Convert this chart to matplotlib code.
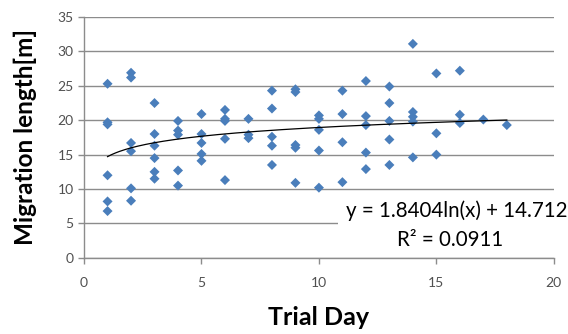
import numpy as np
import matplotlib
matplotlib.use("Agg")
import matplotlib.pyplot as plt

# Data (Trial Day, Migration length [m])
day_1 = [25.3, 19.7, 19.4, 12.0, 8.2, 6.8]
day_2 = [26.9, 26.2, 16.7, 15.5, 10.1, 8.3]
day_3 = [22.5, 18.0, 16.3, 14.5, 12.5, 11.5]
day_4 = [19.9, 18.5, 17.9, 12.7, 10.5]
day_5 = [20.9, 18.0, 16.7, 15.1, 14.1]
day_6 = [21.5, 20.2, 19.9, 17.3, 11.3]
day_7 = [20.2, 17.9, 17.4]
day_8 = [24.3, 21.7, 17.6, 16.3, 13.5]
day_9 = [24.5, 24.1, 16.4, 16.0, 10.9]
day_10 = [20.7, 20.2, 18.6, 15.6, 10.2]
day_11 = [24.3, 20.9, 16.8, 11.0]
day_12 = [25.7, 20.6, 19.3, 15.3, 12.9]
day_13 = [24.9, 22.5, 19.9, 17.2, 13.5]
day_14 = [31.1, 21.2, 20.5, 19.8, 14.6]
day_15 = [26.8, 18.1, 15.0]
day_16 = [27.2, 20.8, 19.6]
day_17 = [20.1]
day_18 = [19.3]

days = list(range(1, 19))
values_by_day = [day_1, day_2, day_3, day_4, day_5, day_6, day_7, day_8, day_9,
                 day_10, day_11, day_12, day_13, day_14, day_15, day_16, day_17, day_18]

trend_a = 1.8404
trend_b = 14.712
trend_range = [1, 18]

x_ticks = [0, 5, 10, 15, 20]
y_ticks = [0, 5, 10, 15, 20, 25, 30, 35]

xs = []
ys = []
for d, vals in zip(days, values_by_day):
    xs.extend([d] * len(vals))
    ys.extend(vals)

plt.rcParams['font.family'] = ['Lato', 'DejaVu Sans']

fig = plt.figure(figsize=(5.68, 3.34), dpi=100)
ax = fig.add_axes([0.148, 0.228, 0.827, 0.721])

ax.set_xlim(0, 20)
ax.set_ylim(0, 35)
ax.set_xticks(x_ticks)
ax.set_yticks(y_ticks)

ax.grid(axis='y', color='#8c8c8c', linewidth=1.0)
ax.set_axisbelow(True)
for s in ['top', 'right']:
    ax.spines[s].set_visible(False)
for s in ['left', 'bottom']:
    ax.spines[s].set_color('#8c8c8c')
    ax.spines[s].set_linewidth(1.0)
ax.tick_params(axis='both', colors='#8c8c8c', labelcolor='#505050',
               labelsize=10, length=4, width=1.0, direction='out')
ax.tick_params(axis='x', pad=10)

ax.scatter(xs, ys, marker='D', s=26, color='#4a7ebb', edgecolors='none', zorder=3)

tx = np.linspace(trend_range[0], trend_range[1], 200)
ax.plot(tx, trend_a * np.log(tx) + trend_b, color='black', linewidth=0.9, zorder=4)

ax.text(20.6, 6.8, 'y = 1.8404ln(x) + 14.712', ha='right', va='center',
        fontsize=14.8, color='black', zorder=5, clip_on=False,
        bbox=dict(facecolor='white', edgecolor='none', pad=6))
ax.text(15.6, 2.6, 'R² = 0.0911', ha='center', va='center',
        fontsize=14.8, color='black', zorder=6)

ax.set_xlabel('Trial Day', fontsize=18, fontweight='bold', labelpad=12)
ax.set_ylabel('Migration length[m]', fontsize=17.5, fontweight='bold', labelpad=15)

fig.savefig('out.png', dpi=100)
